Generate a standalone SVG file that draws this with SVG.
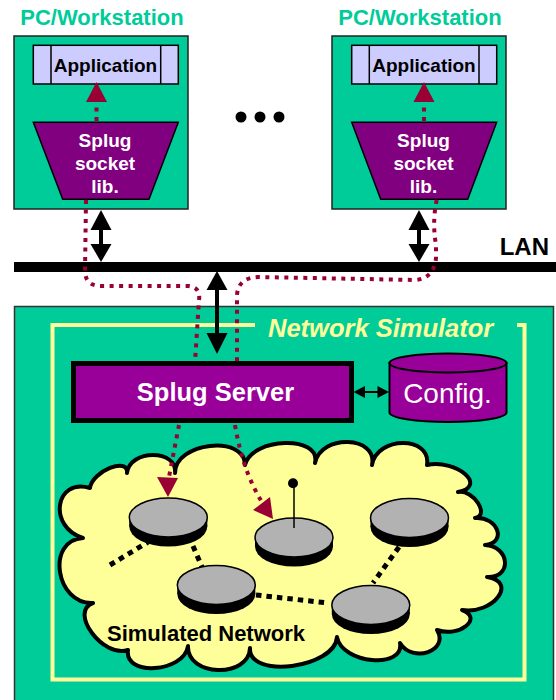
<svg xmlns="http://www.w3.org/2000/svg" xmlns:xlink="http://www.w3.org/1999/xlink" width="556" height="700" viewBox="0 0 556 700">
<style>
.t{font-family:"Liberation Sans",Arial,sans-serif;font-weight:bold}
.title{fill:#00CC99;font-size:22px}
.box{fill:#00CC99;stroke:#222;stroke-width:1.5}
.app{fill:#CCCCFF;stroke:#000;stroke-width:1.5}
.trap{fill:#800080;stroke:#000;stroke-width:1.5}
.wt{fill:#fff;font-size:19px}
.red{fill:none;stroke:#990033;stroke-width:4;stroke-dasharray:4 5.5}
.redh{fill:#990033}
.blk{fill:#000}
.bd{fill:none;stroke:#000;stroke-width:5;stroke-dasharray:5.5 5}
</style>
<defs>
<g id="disk">
<ellipse cx="0" cy="9" rx="39" ry="20" fill="#000"/>
<rect x="-39" y="0" width="78" height="9" fill="#000"/>
<ellipse cx="0" cy="0" rx="39" ry="19.5" fill="#B2B2B2" stroke="#000" stroke-width="1.5"/>
</g>
</defs>
<rect width="556" height="700" fill="#fff"/>

<g id="pc-left">
<text class="t title" x="102" y="25" text-anchor="middle">PC/Workstation</text>
<rect class="box" x="14" y="36" width="174" height="173"/>
<rect class="app" x="33.3" y="45.3" width="145" height="38.7"/>
<line x1="51" y1="45.3" x2="51" y2="84" stroke="#000" stroke-width="1.5"/>
<line x1="160.7" y1="45.3" x2="160.7" y2="84" stroke="#000" stroke-width="1.5"/>
<text class="t" x="105.5" y="72" font-size="19" text-anchor="middle">Application</text>
<polygon class="trap" points="33.3,122.3 178.3,122.3 149,199.3 62.7,199.3"/>
<text class="t wt" x="105" y="147" text-anchor="middle">Splug</text>
<text class="t wt" x="105" y="170" text-anchor="middle">socket</text>
<text class="t wt" x="105" y="193" text-anchor="middle">lib.</text>
</g>

<g id="pc-right">
<text class="t title" x="420" y="25" text-anchor="middle">PC/Workstation</text>
<rect class="box" x="332" y="36" width="174" height="173"/>
<rect class="app" x="351.7" y="45.3" width="145" height="38.7"/>
<line x1="369.3" y1="45.3" x2="369.3" y2="84" stroke="#000" stroke-width="1.5"/>
<line x1="479" y1="45.3" x2="479" y2="84" stroke="#000" stroke-width="1.5"/>
<text class="t" x="424" y="72" font-size="19" text-anchor="middle">Application</text>
<polygon class="trap" points="351.7,122.3 496.7,122.3 467.7,199.3 380.7,199.3"/>
<text class="t wt" x="423.5" y="147" text-anchor="middle">Splug</text>
<text class="t wt" x="423.5" y="170" text-anchor="middle">socket</text>
<text class="t wt" x="423.5" y="193" text-anchor="middle">lib.</text>
</g>

<g id="ellipsis">
<circle cx="241" cy="117" r="5.5"/>
<circle cx="260" cy="117" r="5.5"/>
<circle cx="279" cy="117" r="5.5"/>
</g>

<g id="lan">
<rect x="14" y="262" width="542" height="10" fill="#000"/>
<text class="t" x="549" y="255" font-size="24" text-anchor="end">LAN</text>
</g>

<g id="network-simulator">
<rect x="14.5" y="306.5" width="539" height="400" fill="#00CC99" stroke="#333" stroke-width="1.5"/>
<path d="M255,325 L52.5,325 L52.5,679.5 L524.5,679.5 L524.5,325 L517,325" fill="none" stroke="#FFFF99" stroke-width="4"/>
<text x="268" y="337" font-family="Liberation Sans,Arial,sans-serif" font-weight="bold" font-style="italic" font-size="25.5" fill="#FFFF99">Network Simulator</text>
</g>

<g id="simulated-network">
<path fill="#FFFF99" stroke="#000" stroke-width="4" stroke-linejoin="round" d="M90,488
C92,471.3 129,456.3 127,473
C129.7,449 177.7,449 175,473
C175,442.3 245,434.3 245,465
C251.7,437 321.7,435 315,463
C321,433.7 378,435.7 372,465
C376.7,435.7 431.7,435.7 427,465
C457,459 488,486 458,492
C473.3,489.3 490.3,515.3 475,518
C497.7,516 507.7,543 485,545
C510.3,546.3 512.3,578.3 487,577
C518.3,581.7 493.3,614.7 462,610
C484,618 459,638 437,630
C449.7,650.7 412.7,663.7 400,643
C404.7,669.7 341.7,663.7 337,637
C335,668.3 248,679.3 250,648
C248.7,678.7 186.7,676.7 188,646
C184,672.7 124,676.7 128,650
C103.3,658.7 68.3,611.7 93,603
C55.7,605 45.7,540 83,538
C47.7,527.3 54.7,477.3 90,488 Z"/>
<text class="t" x="107" y="641" font-size="22">Simulated Network</text>
</g>

<g id="links">
<line class="bd" x1="110" y1="565" x2="148" y2="542"/>
<line class="bd" x1="193" y1="546" x2="202" y2="567"/>
<line class="bd" x1="256" y1="595" x2="328" y2="603"/>
<line class="bd" x1="399" y1="547" x2="373" y2="583"/>
</g>

<g id="node-1"><use xlink:href="#disk" href="#disk" x="168.3" y="517.5"/></g>
<g id="node-2"><use xlink:href="#disk" href="#disk" x="294" y="537.5"/>
<line x1="294" y1="483" x2="294" y2="528" stroke="#000" stroke-width="1.5"/>
<circle cx="293" cy="483.3" r="5"/></g>
<g id="node-3"><use xlink:href="#disk" href="#disk" x="409.5" y="518"/></g>
<g id="node-4"><use xlink:href="#disk" href="#disk" x="216.3" y="585"/></g>
<g id="node-5"><use xlink:href="#disk" href="#disk" x="370.8" y="605"/></g>

<g id="splug-server">
<rect x="73.5" y="363.5" width="278" height="57" fill="#990099" stroke="#000" stroke-width="5"/>
<text class="t" x="215.5" y="401" font-size="25.5" fill="#fff" text-anchor="middle">Splug Server</text>
</g>

<g id="config">
<path d="M389.5,363 L389.5,412.5 A58.5,9.5 0 0 0 506.5,412.5 L506.5,363 Z" fill="#990099" stroke="#000" stroke-width="2"/>
<ellipse cx="448" cy="363" rx="58.5" ry="9.5" fill="#990099" stroke="#000" stroke-width="2"/>
<text x="447.5" y="403" font-family="Liberation Sans,Arial,sans-serif" font-size="28" fill="#fff" text-anchor="middle">Config.</text>
</g>

<g id="connectors">
<!-- PC internal arrows -->
<line class="red" x1="96.5" y1="121" x2="96.5" y2="102"/>
<polygon class="redh" points="86,102 107,102 96.5,82"/>
<line class="red" x1="424" y1="121" x2="424" y2="102"/>
<polygon class="redh" points="413.5,102 434.5,102 424,82"/>
<!-- LAN double arrows -->
<g class="blk">
<rect x="99" y="229" width="4" height="16"/>
<polygon points="90.5,230 111.5,230 101,210"/>
<polygon points="90.5,244 111.5,244 101,262"/>
<rect x="417" y="229" width="4" height="16"/>
<polygon points="408.5,230 429.5,230 419,210"/>
<polygon points="408.5,244 429.5,244 419,262"/>
<rect x="215" y="288" width="4" height="47"/>
<polygon points="206.5,290 227.5,290 217,271"/>
<polygon points="206.5,333 227.5,333 217,354"/>
<!-- server/config arrow -->
<rect x="364" y="391" width="14" height="2"/>
<polygon points="353.5,392 365,386 365,398"/>
<polygon points="389,392 377.5,386 377.5,398"/>
</g>
<!-- dotted message paths -->
<path class="red" d="M86,200 L85,272 Q86,286 101,286 L188,286 Q201,287 199,300 L195,362"/>
<path class="red" d="M436.7,200 Q432,222 436,245 L436,258 Q434,278 416,280 L258,277 Q238,278 237,295 L237,362"/>
<path class="red" d="M179,425 L169,477"/>
<polygon class="redh" points="157,477 178,478 168,497"/>
<path class="red" d="M235,425 Q243,472 262,502"/>
<polygon class="redh" points="253,510 270,497 273,519"/>
</g>
</svg>
